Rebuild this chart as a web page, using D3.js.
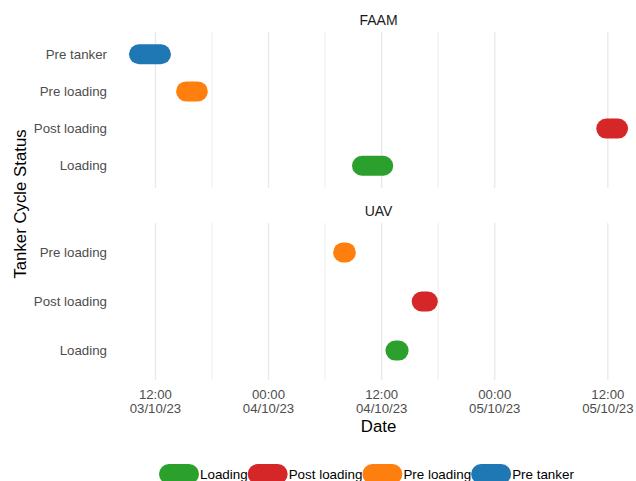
<!DOCTYPE html>
<html><head><meta charset="utf-8">
<script src="https://cdn.jsdelivr.net/npm/d3@7"></script>
<style>body{margin:0;background:#fff}svg{display:block;font-family:"Liberation Sans",Arial,sans-serif}</style>
</head><body>
<svg id="c" width="636" height="481"></svg>
<script>
const facets = ["FAAM", "UAV"];
const statuses = ["Loading", "Post loading", "Pre loading", "Pre tanker"];
const colors = ["#2ca02c", "#d62728", "#ff7f0e", "#1f77b4"];
const faamCategories = ["Pre tanker", "Pre loading", "Post loading", "Loading"];
const uavCategories = ["Pre loading", "Post loading", "Loading"];
const faamStart = ["2023-10-03T10:15", "2023-10-03T15:15", "2023-10-05T11:50", "2023-10-04T09:55"];
const faamEnd   = ["2023-10-03T12:35", "2023-10-03T16:30", "2023-10-05T13:05", "2023-10-04T12:10"];
const uavStart = ["2023-10-04T07:55", "2023-10-04T16:15", "2023-10-04T13:28"];
const uavEnd   = ["2023-10-04T08:12", "2023-10-04T16:54", "2023-10-04T13:48"];
const tickTimes = ["2023-10-03T12:00", "2023-10-04T00:00", "2023-10-04T12:00", "2023-10-05T00:00", "2023-10-05T12:00"];
const minorTimes = ["2023-10-03T18:00", "2023-10-04T06:00", "2023-10-04T18:00"];

const svg = d3.select("#c");
const parse = d3.timeParse("%Y-%m-%dT%H:%M");
const fmtTime = d3.timeFormat("%H:%M"), fmtDate = d3.timeFormat("%d/%m/%y");

const panels = [
  {name: facets[0], cats: faamCategories, s: faamStart, e: faamEnd, top: 32, bottom: 188, strip: 20},
  {name: facets[1], cats: uavCategories, s: uavStart, e: uavEnd, top: 223, bottom: 380, strip: 211}
];
const allTimes = panels.flatMap(p => p.s.concat(p.e)).map(parse);
const [tmin, tmax] = d3.extent(allTimes);
const pad = (tmax - tmin) * 0.05;
const x = d3.scaleTime().domain([new Date(+tmin - pad), new Date(+tmax + pad)]).range([115, 642]);
const color = d3.scaleOrdinal().domain(statuses).range(colors);
const tickLabColor = "#4d4d4d";

panels.forEach(p => {
  const y = d3.scalePoint().domain(p.cats).range([p.top, p.bottom]).padding(0.6);
  const g = svg.append("g");
  g.selectAll("line.minor").data(minorTimes.map(parse)).join("line")
    .attr("x1", d => x(d)).attr("x2", d => x(d)).attr("y1", p.top).attr("y2", p.bottom)
    .attr("stroke", "#ececec").attr("stroke-width", 1);
  g.selectAll("line.major").data(tickTimes.map(parse)).join("line")
    .attr("x1", d => x(d)).attr("x2", d => x(d)).attr("y1", p.top).attr("y2", p.bottom)
    .attr("stroke", "#e8e8e8").attr("stroke-width", 1.3);
  g.selectAll("line.seg").data(p.cats).join("line")
    .attr("x1", (c, i) => x(parse(p.s[i]))).attr("x2", (c, i) => x(parse(p.e[i])))
    .attr("y1", c => y(c)).attr("y2", c => y(c))
    .attr("stroke", c => color(c)).attr("stroke-width", 20).attr("stroke-linecap", "round");
  g.selectAll("text.yl").data(p.cats).join("text")
    .attr("x", 107).attr("y", c => y(c)).attr("dy", "0.35em").attr("text-anchor", "end")
    .attr("font-size", 13.3).attr("fill", tickLabColor).text(c => c);
  g.append("text").attr("x", (x.range()[0] + x.range()[1]) / 2).attr("y", p.strip).attr("dy", "0.35em")
    .attr("text-anchor", "middle").attr("font-size", 14).attr("fill", "#1a1a1a").text(p.name);
});

// x tick labels
const xt = svg.append("g");
tickTimes.map(parse).forEach(d => {
  const t = xt.append("text").attr("x", x(d)).attr("text-anchor", "middle").attr("font-size", 13.2).attr("fill", tickLabColor);
  t.append("tspan").attr("x", x(d)).attr("y", 399).text(fmtTime(d));
  t.append("tspan").attr("x", x(d)).attr("y", 413).text(fmtDate(d));
});
svg.append("text").attr("x", (x.range()[0] + x.range()[1]) / 2).attr("y", 432).attr("text-anchor", "middle")
  .attr("font-size", 16.8).attr("fill", "#000").text("Date");
svg.append("text").attr("transform", "translate(26,204) rotate(-90)").attr("text-anchor", "middle")
  .attr("font-size", 16.8).attr("fill", "#000").text("Tanker Cycle Status");

// legend
const lg = svg.append("g");
let lx = 159;
statuses.forEach(s => {
  lg.append("line").attr("x1", lx + 10).attr("x2", lx + 30).attr("y1", 474).attr("y2", 474)
    .attr("stroke", color(s)).attr("stroke-width", 20).attr("stroke-linecap", "round");
  const t = lg.append("text").attr("x", lx + 41).attr("y", 479).attr("font-size", 13.4).attr("fill", "#000").text(s);
  lx += 41 + t.node().getComputedTextLength();
});
</script>
</body></html>
